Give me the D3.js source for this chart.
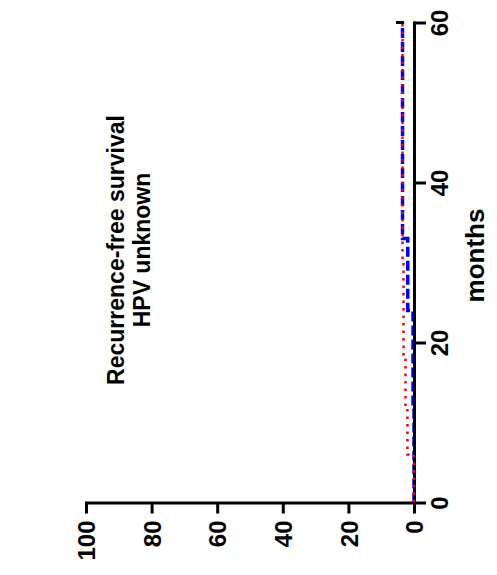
<!DOCTYPE html>
<html>
<head>
<meta charset="utf-8">
<script src="https://cdn.jsdelivr.net/npm/d3@7"></script>
<style>
  body { margin: 0; background: #fff; }
  svg { display: block; font-family: "Liberation Sans", Arial, sans-serif; font-weight: bold; }
</style>
</head>
<body>
<svg id="chart" width="497" height="575"></svg>
<script>
// rotated survival plot: months run bottom->top, percent runs right->left
const monthTicks = [0, 20, 40, 60];
const percentTicks = [0, 20, 40, 60, 80, 100];

// red dotted group
const redMonths = [0, 6, 12, 18, 30, 60];
const redValues = [0, 2.0, 2.6, 3.2, 3.5, 3.5];

// blue dashed group
const blueMonths = [0, 12, 24, 33, 60];
const blueValues = [0, 0.3, 1.9, 3.5, 3.5];

// censor mark at end of follow-up
const censorMonth = 60;
const censorValue = 4.3;

const titleLines = ["Recurrence-free survival", "HPV unknown"];

const svg = d3.select("#chart");

const xPct = d3.scaleLinear().domain([0, 100]).range([414, 86]);
const yMon = d3.scaleLinear().domain([0, 60]).range([502.5, 22.5]);

const toPoints = (ms, vs) => ms.map((m, i) => ({ m, v: vs[i] }));
const line = d3.line()
    .x(d => xPct(d.v))
    .y(d => yMon(d.m))
    .curve(d3.curveStepBefore);

// blue first, so its zero stretch sits under the axis
svg.append("path")
    .datum(toPoints(blueMonths, blueValues))
    .attr("fill", "none")
    .attr("stroke", "#0000ff")
    .attr("stroke-width", 3.5)
    .attr("stroke-dasharray", "10,4")
    .attr("d", line);

const labelStyle = sel => sel
    .style("font-size", "24px")
    .style("font-family", "'Liberation Sans', Arial, sans-serif")
    .style("font-weight", "bold");

// percent axis (horizontal)
const pctAxis = svg.append("g")
    .attr("transform", `translate(0,${yMon(0)})`)
    .call(d3.axisBottom(xPct).tickValues(percentTicks).tickSize(11).tickSizeOuter(0));

pctAxis.select(".domain").attr("stroke-width", 3);
pctAxis.selectAll(".tick line").attr("stroke-width", 3);
pctAxis.selectAll(".tick text")
    .attr("transform", "rotate(-90)")
    .attr("x", -18)
    .attr("y", 0)
    .attr("dy", "0.36em")
    .attr("text-anchor", "end")
    .call(labelStyle);

// months axis (vertical)
const monAxis = svg.append("g")
    .attr("transform", `translate(${xPct(0)},0)`)
    .call(d3.axisRight(yMon).tickValues(monthTicks).tickSize(12).tickSizeOuter(0));

monAxis.select(".domain").attr("stroke-width", 3);
monAxis.selectAll(".tick line").attr("stroke-width", 3);
monAxis.selectAll(".tick text")
    .attr("transform", "rotate(-90)")
    .attr("x", 0)
    .attr("y", 34)
    .attr("dy", 0)
    .attr("text-anchor", "middle")
    .call(labelStyle);

svg.selectAll(".domain").attr("stroke-linecap", "square");

// red dotted on top
svg.append("path")
    .datum(toPoints(redMonths, redValues))
    .attr("fill", "none")
    .attr("stroke", "#ff0000")
    .attr("stroke-width", 2.5)
    .attr("stroke-dasharray", "2.5,5")
    .attr("d", line);

svg.append("line")
    .attr("x1", xPct(censorValue - 1.2)).attr("x2", xPct(censorValue + 1.2))
    .attr("y1", yMon(censorMonth)).attr("y2", yMon(censorMonth))
    .attr("stroke", "#000")
    .attr("stroke-width", 3);

// axis title
svg.append("text")
    .attr("transform", `translate(484,${(yMon(0) + yMon(60)) / 2 - 7}) rotate(-90)`)
    .attr("text-anchor", "middle")
    .style("font-size", "26px")
    .text("months");

// chart title, two lines
svg.append("text")
    .attr("transform", `translate(124,250) rotate(-90)`)
    .attr("text-anchor", "middle")
    .style("font-size", "23px")
    .selectAll("tspan")
    .data(titleLines)
    .join("tspan")
    .attr("x", 0)
    .attr("dy", (d, i) => i === 0 ? 0 : 26)
    .text(d => d);
</script>
</body>
</html>
